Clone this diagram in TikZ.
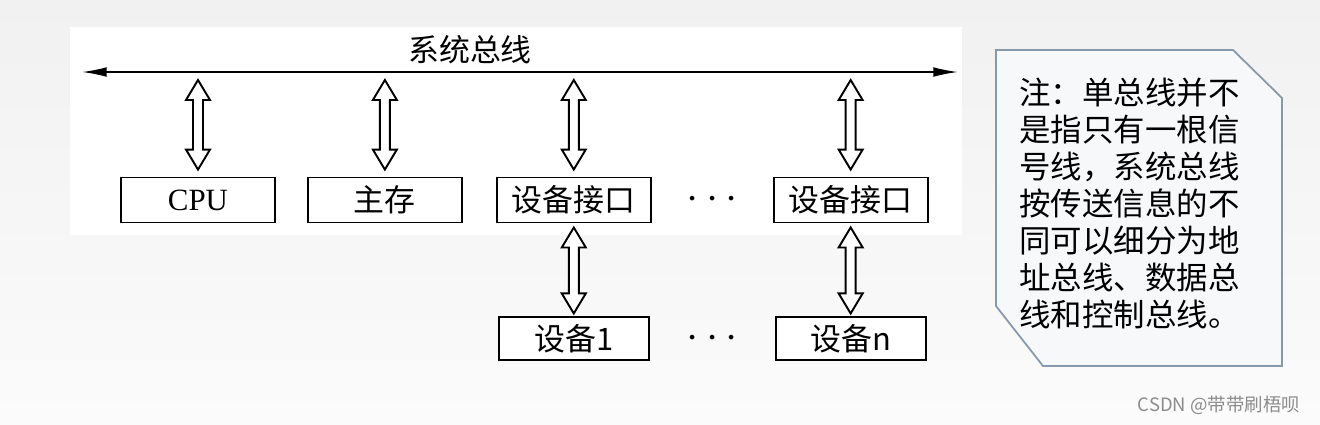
\documentclass[tikz,border=0pt]{standalone}
\usepackage{fontspec}
\setmainfont{Liberation Serif}
\newfontfamily\cjk{Noto Sans CJK SC}
\usetikzlibrary{arrows.meta,positioning,calc}
\definecolor{bgtop}{HTML}{F1F1F1}
\definecolor{bgbot}{HTML}{FBFBFB}
\definecolor{noteline}{HTML}{8698AC}
\definecolor{notefill}{HTML}{F7F8FA}
% hollow two-headed arrow from tip #1 down to tip #2
\newcommand{\dblarrow}[2]{%
  \draw[duplex] (#1) -- ++(12,20) -- ++(-7,0) -- ($(#2)+(5,-20)$) -- ++(7,0) -- (#2)
    -- ++(-12,-20) -- ++(7,0) -- ($(#1)+(-5,20)$) -- ++(-7,0) -- cycle;}

\begin{document}
\begin{tikzpicture}[
  x=0.02cm, y=-0.02cm,
  node distance=0.62cm,
  box/.style={rectangle, draw, line width=1.1pt, fill=white, minimum width=3.08cm, minimum height=0.9cm, inner sep=0pt, font=\fontsize{17.6}{20}\selectfont},
  devbox/.style={box, minimum width=3cm, minimum height=0.86cm},
  duplex/.style={draw, fill=white, line width=1.1pt, line join=miter},
  busline/.style={{Latex[length=14pt,width=5.5pt]}-{Latex[length=14pt,width=5.5pt]}, line width=0.9pt},
  cjkfont/.style={font=\cjk\fontsize{17.6}{20}\selectfont},
  dotsfont/.style={font=\fontsize{24}{26}\selectfont},
]
  \useasboundingbox (0,0) rectangle (1320,424);
  \shade[top color=bgtop, bottom color=bgbot] (0,0) rectangle (1320,424);
  \fill[white] (70,27) rectangle (962,235);

  % system bus
  \coordinate (busL) at (82,72);
  \coordinate (busR) at (958,72);
  \draw[busline] (busL) -- (busR);
  \node[cjkfont] (buslabel) at (470,50) {系统总线};

  % modules on the bus
  \node[box] (cpu) at (198,200) {CPU};
  \node[box, cjkfont, right=of cpu] (mem) {主存};
  \node[box, cjkfont, right=0.66cm of mem] (io1) {设备接口};
  \node[box, cjkfont, right=2.42cm of io1] (io2) {设备接口};
  \node[dotsfont] (dots1) at ($(io1.east)!0.5!(io2.west)$) {$\cdots$};

  % devices
  \node[devbox, cjkfont, below=1.86cm of io1] (dev1) {设备1};
  \node[devbox, cjkfont, below=1.86cm of io2] (devn) {设备n};
  \node[dotsfont] (dots2) at (dots1 |- dev1) {$\cdots$};

  \foreach \m in {cpu,mem,io1,io2}
    \dblarrow{$(\m.north |- busL)+(0,8)$}{$(\m.north)+(0,-7)$};
  \dblarrow{$(io1.south)+(0,4)$}{$(dev1.north)+(0,-3)$}
  \dblarrow{$(io2.south)+(0,4)$}{$(devn.north)+(0,-3)$}

  % note
  \draw[noteline, fill=notefill, line width=1pt] (996,50) -- (1233,50) -- (1282,98)
    -- (1282,366) -- (1043,366) -- (996,306) -- cycle;
  \node[anchor=north west, inner sep=0pt, align=left, font=\cjk\fontsize{17.9}{21}\selectfont] (note) at (1019,78)
    {注：单总线并不\\是指只有一根信\\号线，系统总线\\按传送信息的不\\同可以细分为地\\址总线、数据总\\线和控制总线。};

  \node[text=black!45, font=\cjk\fontsize{10.5}{12}\selectfont] (mark) at (1219,405) {CSDN @带带刷梧呗};
\end{tikzpicture}
\end{document}
